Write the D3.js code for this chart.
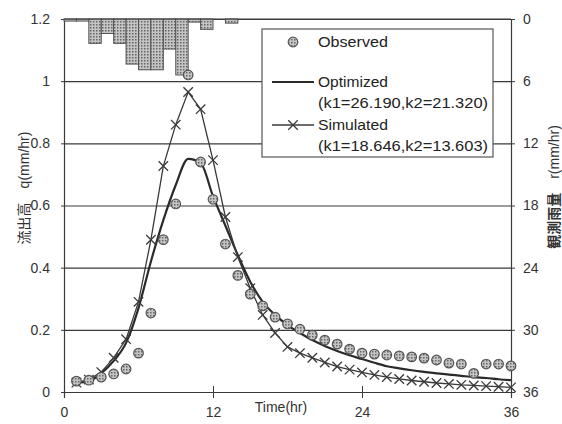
<!DOCTYPE html>
<html>
<head>
<meta charset="utf-8">
<script src="https://cdn.jsdelivr.net/npm/d3@7"></script>
<style>
  body { margin: 0; background: #fff; }
  svg { display: block; font-family: "Liberation Sans", Arial, sans-serif; }
</style>
</head>
<body>
<div id="chart"></div>
<script>
// hourly values, t = 1..36
const hours = d3.range(1, 37);
const observed = [0.035, 0.038, 0.048, 0.058, 0.074, 0.125, 0.254, 0.49, 0.605, 1.02,
  0.74, 0.62, 0.476, 0.375, 0.315, 0.277, 0.241, 0.219, 0.202, 0.183,
  0.167, 0.154, 0.138, 0.125, 0.122, 0.119, 0.116, 0.113, 0.109, 0.103,
  0.093, 0.09, 0.06, 0.09, 0.09, 0.084];
const optimized = [0.03, 0.035, 0.06, 0.1, 0.158, 0.27, 0.42, 0.553, 0.666, 0.75,
  0.737, 0.63, 0.535, 0.44, 0.355, 0.29, 0.248, 0.215, 0.19, 0.167,
  0.148, 0.132, 0.118, 0.106, 0.094, 0.083, 0.076, 0.07, 0.065, 0.06,
  0.056, 0.052, 0.048, 0.045, 0.041, 0.038];
const simulated = [0.03, 0.04, 0.064, 0.11, 0.17, 0.29, 0.49, 0.727, 0.86, 0.965,
  0.91, 0.746, 0.563, 0.434, 0.334, 0.248, 0.19, 0.145, 0.125, 0.11,
  0.095, 0.082, 0.072, 0.063, 0.055, 0.048, 0.042, 0.037, 0.033, 0.029,
  0.026, 0.023, 0.021, 0.019, 0.017, 0.015];
// rainfall per hour, bar from t to t+1
const rainStart = d3.range(0, 14);
const rain = [0.2, 0.2, 2.35, 1.4, 2.35, 4.35, 4.9, 4.9, 2.9, 5.4, 0.3, 1.0, 0, 0.4];

const xTicks = [0, 12, 24, 36];
const qTicks = [0, 0.2, 0.4, 0.6, 0.8, 1, 1.2];
const rTicks = [0, 6, 12, 18, 24, 30, 36];
const legendItems = ["Observed", "Optimized", "(k1=26.190,k2=21.320)", "Simulated", "(k1=18.646,k2=13.603)"];

const width = 562, height = 424;
const margin = {top: 19, right: 51, bottom: 32, left: 64};
const ink = "#3a3a3a";

const svg = d3.select("#chart").append("svg")
  .attr("width", width).attr("height", height);

const defs = svg.append("defs");
const pat = defs.append("pattern").attr("id", "stipple")
  .attr("width", 3).attr("height", 3).attr("patternUnits", "userSpaceOnUse");
pat.append("rect").attr("width", 3).attr("height", 3).attr("fill", "#c4c4c4");
pat.append("rect").attr("width", 1.5).attr("height", 1.5).attr("fill", "#666");

const xScale = d3.scaleLinear().domain([0, 36]).range([margin.left, width - margin.right]);
const yScale = d3.scaleLinear().domain([0, 1.2]).range([height - margin.bottom, margin.top]);
const rScale = d3.scaleLinear().domain([0, 36]).range([margin.top, height - margin.bottom]);

// gridlines
svg.append("g")
  .attr("transform", `translate(${margin.left},0)`)
  .call(d3.axisLeft(yScale).tickValues(qTicks).tickSize(-(xScale(36) - xScale(0))).tickFormat(""))
  .call(g => g.select(".domain").remove())
  .call(g => g.selectAll("line").attr("stroke", ink).attr("stroke-width", 1.2));

// right axis ticks + labels
svg.append("g")
  .attr("transform", `translate(${xScale(36)},0)`)
  .call(d3.axisRight(rScale).tickValues(rTicks).tickSize(4).tickPadding(8))
  .call(g => g.select(".domain").attr("stroke", ink).attr("stroke-width", 1.2))
  .call(g => g.selectAll("line").attr("stroke", ink))
  .call(g => g.selectAll("text").attr("font-size", 14).attr("fill", "#333"));

// left axis
svg.append("g")
  .attr("transform", `translate(${margin.left},0)`)
  .call(d3.axisLeft(yScale).tickValues(qTicks).tickSize(3).tickPadding(11).tickFormat(d3.format("")))
  .call(g => g.select(".domain").attr("stroke", ink).attr("stroke-width", 1.2))
  .call(g => g.selectAll("line").attr("stroke", ink))
  .call(g => g.selectAll("text").attr("font-size", 14).attr("fill", "#333"));

// bottom axis
svg.append("g")
  .attr("transform", `translate(0,${yScale(0)})`)
  .call(d3.axisBottom(xScale).tickValues(xTicks).tickSize(6).tickPadding(9))
  .call(g => g.select(".domain").attr("stroke", ink).attr("stroke-width", 1.2))
  .call(g => g.selectAll("line").attr("stroke", ink).attr("y1", -6))
  .call(g => g.selectAll("text").attr("font-size", 14).attr("fill", "#333"));

// rainfall bars hanging from the top
svg.append("g").selectAll("rect")
  .data(rainStart.map((t, i) => [t, rain[i]]).filter(d => d[1] > 0))
  .join("rect")
  .attr("x", d => xScale(d[0]))
  .attr("y", rScale(0))
  .attr("width", d => xScale(d[0] + 1) - xScale(d[0]))
  .attr("height", d => rScale(d[1]) - rScale(0))
  .attr("fill", "url(#stipple)")
  .attr("stroke", "#555")
  .attr("stroke-width", 1);

// optimized curve
const optLine = d3.line()
  .x((d, i) => xScale(hours[i]))
  .y(d => yScale(d))
  .curve(d3.curveMonotoneX);
svg.append("path").datum(optimized)
  .attr("d", optLine)
  .attr("fill", "none").attr("stroke", "#2a2a2a").attr("stroke-width", 2.2);

// simulated polyline + crosses
const simLine = d3.line().x((d, i) => xScale(hours[i])).y(d => yScale(d));
svg.append("path").datum(simulated)
  .attr("d", simLine)
  .attr("fill", "none").attr("stroke", "#3a3a3a").attr("stroke-width", 1.3);

const cross = d3.symbol().type(d3.symbolX).size(60);
svg.append("g").selectAll("path")
  .data(simulated)
  .join("path")
  .attr("d", cross)
  .attr("transform", (d, i) => `translate(${xScale(hours[i])},${yScale(d)})`)
  .attr("fill", "none").attr("stroke", "#3a3a3a").attr("stroke-width", 1.3);

// observed circles
svg.append("g").selectAll("circle")
  .data(observed)
  .join("circle")
  .attr("cx", (d, i) => xScale(hours[i]))
  .attr("cy", d => yScale(d))
  .attr("r", 4.8)
  .attr("fill", "url(#stipple)")
  .attr("stroke", "#555").attr("stroke-width", 1.2);

// top border of plot
svg.append("line")
  .attr("x1", xScale(0)).attr("x2", xScale(36))
  .attr("y1", yScale(1.2)).attr("y2", yScale(1.2))
  .attr("stroke", ink).attr("stroke-width", 1.2);

// legend
const lg = svg.append("g");
lg.append("rect").attr("x", 262).attr("y", 29).attr("width", 231).attr("height", 128)
  .attr("fill", "#fff").attr("stroke", "#555").attr("stroke-width", 1.2);
const ly = [42, 82, 103, 125, 146];
lg.selectAll("text").data(legendItems).join("text")
  .attr("x", 318).attr("y", (d, i) => ly[i])
  .attr("dy", "0.35em")
  .attr("font-size", 15).attr("fill", "#222")
  .attr("textLength", (d, i) => i === 2 || i === 4 ? 170 : 70)
  .attr("lengthAdjust", "spacingAndGlyphs")
  .text(d => d);
lg.append("circle").attr("cx", 293).attr("cy", 42).attr("r", 4.8)
  .attr("fill", "url(#stipple)").attr("stroke", "#555").attr("stroke-width", 1.2);
lg.append("line").attr("x1", 272).attr("x2", 314).attr("y1", 82).attr("y2", 82)
  .attr("stroke", "#2a2a2a").attr("stroke-width", 2.2);
lg.append("line").attr("x1", 272).attr("x2", 314).attr("y1", 125).attr("y2", 125)
  .attr("stroke", "#3a3a3a").attr("stroke-width", 1.3);
lg.append("path").attr("d", cross()).attr("transform", "translate(293,125)")
  .attr("fill", "none").attr("stroke", "#3a3a3a").attr("stroke-width", 1.3);

// axis titles
svg.append("text")
  .attr("transform", "translate(24,188) rotate(-90)")
  .attr("text-anchor", "middle").attr("dy", "0.35em")
  .attr("font-size", 14).attr("fill", "#333")
  .call(t => {
    t.append("tspan").attr("font-family", "Noto Sans CJK JP").text("流出高　");
    t.append("tspan").text("q(mm/hr)");
  });
svg.append("text")
  .attr("transform", "translate(554,187) rotate(-90)")
  .attr("text-anchor", "middle").attr("dy", "0.35em")
  .attr("font-size", 14).attr("fill", "#333")
  .call(t => {
    t.append("tspan").attr("font-family", "Noto Sans CJK JP").attr("font-weight", "bold").text("観測雨量　");
    t.append("tspan").text("r(mm/hr)");
  });
svg.append("text")
  .attr("x", 281).attr("y", 412)
  .attr("text-anchor", "middle")
  .attr("font-size", 14).attr("fill", "#333")
  .text("Time(hr)");
</script>
</body>
</html>
